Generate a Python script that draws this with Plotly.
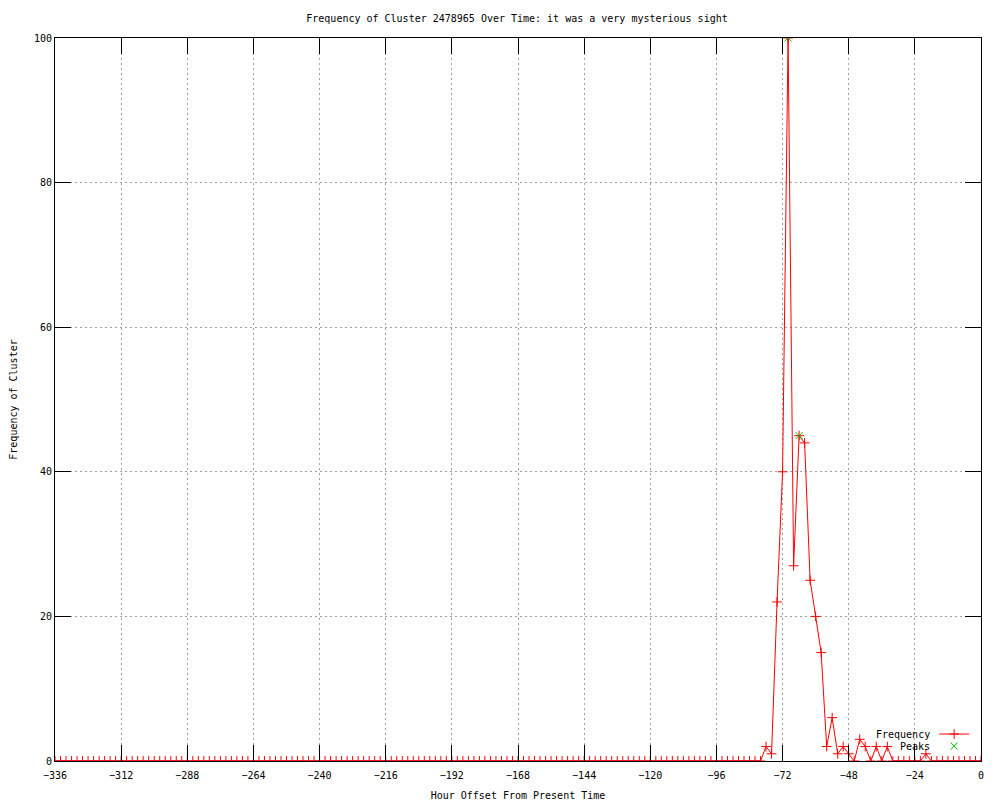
import plotly.graph_objects as go

hours = list(range(-336, 1, 2))

freq = [
    0, 0, 0, 0, 0, 0, 0, 0, 0, 0, 0, 0, 0, 0, 0, 0, 0, 0, 0, 0,
    0, 0, 0, 0, 0, 0, 0, 0, 0, 0, 0, 0, 0, 0, 0, 0, 0, 0, 0, 0,
    0, 0, 0, 0, 0, 0, 0, 0, 0, 0, 0, 0, 0, 0, 0, 0, 0, 0, 0, 0,
    0, 0, 0, 0, 0, 0, 0, 0, 0, 0, 0, 0, 0, 0, 0, 0, 0, 0, 0, 0,
    0, 0, 0, 0, 0, 0, 0, 0, 0, 0, 0, 0, 0, 0, 0, 0, 0, 0, 0, 0,
    0, 0, 0, 0, 0, 0, 0, 0, 0, 0, 0, 0, 0, 0, 0, 0, 0, 0, 0, 0,
    0, 0, 0, 0, 0, 0, 0, 0, 0,            # -336 .. -80
    2, 1, 22, 40, 100, 27, 45, 44, 25, 20,  # -78 .. -60
    15, 2, 6, 1, 2, 1, 0, 3, 2, 0,          # -58 .. -40
    2, 0, 2, 0, 0, 0, 0, 0, 0, 1,           # -38 .. -20
    0, 0, 0, 0, 0, 0, 0, 0, 0, 0,           # -18 .. 0
]

peak_hours = [-70, -66]
peak_values = [100, 45]

series_names = ["Frequency", "Peaks"]

FONT = "DejaVu Sans Mono"
TXT = dict(family=FONT, size=10, color="black")

fig = go.Figure()
fig.add_trace(go.Scatter(
    x=hours, y=freq, mode="lines+markers", name="", legend="legend",
    hovertemplate=series_names[0] + ": %{x}, %{y}<extra></extra>",
    line=dict(color="#ff0000", width=1),
    marker=dict(symbol="cross-thin", size=7, line=dict(color="#ff0000", width=1), color="#ff0000"),
))
fig.add_trace(go.Scatter(
    x=peak_hours, y=peak_values, mode="markers", name="", legend="legend2",
    hovertemplate=series_names[1] + ": %{x}, %{y}<extra></extra>",
    marker=dict(symbol="x-thin", size=7, line=dict(color="#00c000", width=1), color="#00c000"),
))

axis_common = dict(
    showline=True, linecolor="black", linewidth=1, mirror="ticks",
    ticks="inside", ticklen=16, tickwidth=1, tickcolor="black",
    showgrid=True, gridcolor="#a0a0a0", gridwidth=1, griddash="2px,3px",
    zeroline=False, automargin=False,
    tickfont=TXT,
)

fig.update_xaxes(
    range=[-336, 0], tickmode="linear", tick0=-336, dtick=24, ticklabelstandoff=5,
    title=dict(text="Hour Offset From Present Time", font=TXT, standoff=11),
    **axis_common,
)
fig.update_yaxes(
    range=[0, 100], tickmode="linear", tick0=0, dtick=20,
    title=dict(text="Frequency of Cluster", font=TXT, standoff=14),
    **axis_common,
)

legend_common = dict(x=0.998, xanchor="right", yanchor="middle",
                     bgcolor="rgba(0,0,0,0)", font=TXT, itemwidth=30,
                     tracegroupgap=0)

legend_rows_y = [0.0373, 0.0207]

fig.update_layout(
    width=1000, height=800,
    margin=dict(l=47, r=27, t=30, b=47),
    paper_bgcolor="white", plot_bgcolor="white",
    title=dict(text="Frequency of Cluster 2478965 Over Time: it was a very mysterious sight",
               x=0.509, xanchor="center", y=0.9875, yanchor="middle", font=TXT),
    font=TXT,
    legend=dict(y=legend_rows_y[0], **legend_common),
    legend2=dict(y=legend_rows_y[1], **legend_common),
    showlegend=True,
)

for name, yy in zip(series_names, legend_rows_y):
    fig.add_annotation(text=name, xref="paper", yref="paper", x=0.947, y=yy,
                       xanchor="right", yanchor="middle", showarrow=False, font=TXT)

fig.write_html("out.html")
